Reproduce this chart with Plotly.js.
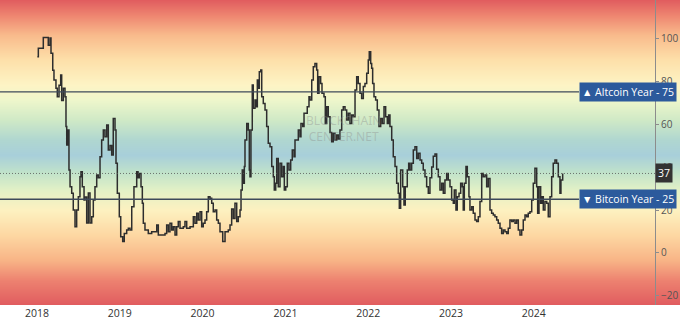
<!DOCTYPE html>
<html>
<head>
<meta charset="utf-8">
<script src="https://cdn.plot.ly/plotly-3.0.1.min.js"></script>
<style>html,body{margin:0;padding:0;background:#fff;}#chart{width:680px;height:326px;}</style>
</head>
<body>
<div id="chart"></div>
<script>
// Dates as decimal years
const dates = [
2018.004,2018.016,2018.069,2018.076,2018.136,2018.157,2018.169,2018.190,2018.205,2018.229,
2018.245,2018.266,2018.286,2018.298,2018.318,2018.338,2018.350,2018.359,2018.371,2018.386,
2018.399,2018.419,2018.438,2018.459,2018.479,2018.499,2018.519,2018.531,2018.547,2018.568,
2018.580,2018.600,2018.620,2018.640,2018.661,2018.680,2018.700,2018.721,2018.740,2018.761,
2018.781,2018.801,2018.821,2018.842,2018.861,2018.882,2018.902,2018.921,2018.942,2018.954,
2018.970,2018.994,2019.011,2019.035,2019.054,2019.083,2019.103,2019.123,2019.144,2019.171,
2019.204,2019.220,2019.235,2019.256,2019.272,2019.284,2019.304,2019.344,2019.385,2019.425,
2019.446,2019.465,2019.506,2019.546,2019.566,2019.586,2019.606,2019.627,2019.646,2019.667,
2019.687,2019.706,2019.727,2019.767,2019.787,2019.808,2019.848,2019.868,2019.888,2019.908,
2019.929,2019.948,2019.969,2019.989,2020.008,2020.029,2020.049,2020.069,2020.089,2020.110,
2020.129,2020.150,2020.170,2020.190,2020.210,2020.243,2020.271,2020.310,2020.331,2020.351,
2020.371,2020.391,2020.412,2020.431,2020.452,2020.464,2020.479,2020.491,2020.504,2020.512,
2020.533,2020.552,2020.564,2020.572,2020.584,2020.600,2020.612,2020.633,2020.645,2020.661,
2020.673,2020.685,2020.702,2020.714,2020.733,2020.754,2020.774,2020.793,2020.814,2020.835,
2020.854,2020.866,2020.883,2020.895,2020.914,2020.935,2020.955,2020.975,2020.987,2021.004,
2021.023,2021.043,2021.064,2021.083,2021.104,2021.116,2021.136,2021.156,2021.176,2021.188,
2021.209,2021.225,2021.249,2021.264,2021.285,2021.297,2021.318,2021.337,2021.357,2021.378,
2021.390,2021.406,2021.426,2021.442,2021.466,2021.482,2021.499,2021.518,2021.539,2021.559,
2021.578,2021.599,2021.620,2021.639,2021.659,2021.680,2021.699,2021.720,2021.740,2021.760,
2021.780,2021.801,2021.820,2021.841,2021.861,2021.880,2021.901,2021.921,2021.941,2021.961,
2021.982,2022.001,2022.013,2022.030,2022.042,2022.054,2022.070,2022.090,2022.110,2022.130,
2022.151,2022.170,2022.191,2022.211,2022.231,2022.247,2022.263,2022.284,2022.303,2022.324,
2022.344,2022.363,2022.376,2022.392,2022.417,2022.432,2022.448,2022.472,2022.489,2022.505,
2022.525,2022.545,2022.565,2022.586,2022.605,2022.626,2022.646,2022.665,2022.686,2022.706,
2022.726,2022.746,2022.767,2022.786,2022.807,2022.827,2022.847,2022.867,2022.888,2022.907,
2022.927,2022.948,2022.967,2022.988,2023.008,2023.028,2023.040,2023.060,2023.076,2023.097,
2023.117,2023.136,2023.148,2023.161,2023.181,2023.197,2023.217,2023.229,2023.250,2023.269,
2023.290,2023.310,2023.330,2023.350,2023.371,2023.390,2023.411,2023.431,2023.450,2023.471,
2023.491,2023.511,2023.531,2023.552,2023.571,2023.592,2023.612,2023.632,2023.652,2023.673,
2023.692,2023.712,2023.733,2023.752,2023.773,2023.793,2023.813,2023.833,2023.854,2023.873,
2023.894,2023.914,2023.933,2023.954,2023.975,2023.994,2024.014,2024.035,2024.047,2024.063,
2024.083,2024.099,2024.115,2024.135,2024.156,2024.175,2024.196,2024.216,2024.235,2024.256,
2024.276,2024.296,2024.316,2024.328,2024.349
];
// Altcoin Season Index values
const indexValues = [
91.3,95.2,95.2,100.3,96.7,100,92.9,85,80.5,76.7,
72.7,78,82.8,71,76.7,72.7,58.8,50.2,57.2,38.6,
30.8,27.8,20,12.2,20,26.2,35.5,37.8,30.8,24.7,
26,14,27.9,14,16.9,24.7,30.8,36.3,35,44.8,
52.6,57.2,54.1,59.5,47.9,50,45.6,62.6,57.2,41.7,
27.8,16.9,7.6,5.3,9.1,10.7,11.5,10.7,21.5,30.8,
37.8,35,37,30.8,23.1,13.8,10.7,9.1,9.9,9.9,
13,8.4,8.4,9.1,13,9.9,13.8,10.7,12.2,8.4,
12.2,14.6,11.5,12.2,14.6,11.5,12.2,12.2,16.9,13.8,
18.5,15.3,19.2,12.2,13.8,15.3,19.2,26.2,25.5,23.1,
19.2,20,15.3,13.8,9.9,5.3,9.9,10.7,13,20.5,
16,23.1,14.6,16.9,20,29.3,38.6,32.4,40.2,52.6,
60.3,57.2,38.6,35.5,57.2,78.1,67.3,71.2,68,80.5,
76.6,84.3,85.1,72.7,69.6,66.5,58.8,51,49.4,40.2,
35.5,29.3,32.4,44,30.8,41.7,35.5,40.2,29.3,30.8,
41.7,38.6,43.3,47.9,44.8,52.6,52.6,57.2,54.1,60.3,
58.8,65,65,68,72.7,71.2,80.5,86.7,88.2,85.1,
74.3,82,78.9,74.3,72.7,60.3,68,63.4,56,51.8,
55.7,52.6,54.9,53,57.2,66.5,68,66.5,61.9,65,
60.3,64.2,63.4,75.8,82,78.9,74.3,71.9,77.4,78.9,
83.6,89.8,93.6,88.2,85.9,78.9,72.7,71.2,66.5,58.8,
62.6,60.3,68,63.4,60.3,64.2,58.8,52.6,44.8,40.2,
32.4,27.8,20.8,38.6,30.8,22.3,30.8,38.6,41.7,38.6,
41.7,47.9,49.4,44,46.4,43.3,41.7,38.6,35.5,30.8,
27.8,35,40,45,46,39,35.5,29.3,32.4,27.8,
34,37,34,30.8,24.7,23.1,29.3,20,26.2,27.8,
32.4,30.8,20,32.4,40.2,35.5,26.2,20,21.5,18.5,
15.3,14.6,16.9,23.9,37,35.5,36.3,30.8,34.7,20,
18.5,17.7,16.9,15.3,13.8,11.5,9.1,10.7,9.9,9.1,
11.5,15.3,14.6,15.3,13.8,15.3,10.7,8.4,10.7,15.3,
17.7,16.9,18.5,19.2,24.7,32.4,39.4,30.8,18.5,30.8,
23.1,26.2,20,23.9,23.1,16.9,26.2,35.5,41.7,43.3,
41.7,35.5,27.8,34,37
];
const yearTicks = [2018,2019,2020,2021,2022,2023,2024];
const yearLabels = ['2018','2019','2020','2021','2022','2023','2024'];
const altcoinLevel = 75;
const bitcoinLevel = 25;
const currentValue = 37;

// background gradient stops
const bandValues = [-26,-12.6,-3.3,8.4,20,29.3,37.7,45.6,52.6,61.9,71.2,78.1,89.8,101.4,110.7,119];
const bandColors = ['#de555c','#ed8270','#f8b486','#fdd7a2','#fdf1c0','#e3f1c6','#c0e2ca','#a8cfda','#afd6d0','#cfe9c6','#eef6cb','#fdf4c5','#fde0aa','#f9bb8c','#ee8570','#de555c'];

const vmin = bandValues[0], vmax = bandValues[bandValues.length-1];
const colorscale = bandValues.map((v,i)=>[(v-vmin)/(vmax-vmin), bandColors[i]]);

const bg = {
  type:'heatmap', x:[2017.3, 2026.0], y:bandValues,
  z:bandValues.map(v=>[v,v]), colorscale:colorscale, zmin:vmin, zmax:vmax,
  zsmooth:'best', showscale:false, hoverinfo:'skip'
};
const line = {
  type:'scatter', mode:'lines', x:dates, y:indexValues,
  line:{color:'#2e2e2e', width:1.5, shape:'hv'}, hoverinfo:'skip'
};

const xEnd = 655/680;
const layout = {
  width:680, height:326,
  margin:{l:0, r:0, t:0, b:21},
  paper_bgcolor:'#ffffff', plot_bgcolor:'#ffffff',
  showlegend:false,
  font:{family:'Open Sans, Noto Sans, sans-serif'},
  xaxis:{range:[2017.553, 2025.766], tickmode:'array', tickvals:yearTicks, ticktext:yearLabels,
    showgrid:false, zeroline:false, showline:false, ticks:'',
    tickfont:{size:10.5, color:'#333'}, fixedrange:true},
  yaxis:{range:[-24.2, 117.7], side:'right', anchor:'free', position:xEnd,
    showline:true, linecolor:'#8c8c8c', linewidth:1, ticks:'outside', ticklen:3, tickcolor:'#8c8c8c',
    dtick:20, tick0:0, showgrid:false, zeroline:false,
    tickfont:{size:10, color:'#555'}, fixedrange:true},
  shapes:[
    {type:'line', xref:'paper', yref:'y', x0:0, x1:579/680, y0:altcoinLevel, y1:altcoinLevel,
      line:{color:'#3e4a5a', width:1.3}, layer:'above'},
    {type:'line', xref:'paper', yref:'y', x0:0, x1:579/680, y0:bitcoinLevel, y1:bitcoinLevel,
      line:{color:'#3e4a5a', width:1.3}, layer:'above'},
    {type:'line', xref:'paper', yref:'y', x0:0, x1:xEnd, y0:currentValue, y1:currentValue,
      line:{color:'#555', width:0.8, dash:'1px,2px'}, layer:'above'}
  ],
  annotations:[
    {xref:'paper', yref:'y', x:343/680, y:58, text:'BLOCKCHAIN<br>CENTER.NET', showarrow:false,
      font:{size:12, color:'rgba(140,140,140,0.38)', family:'Noto Sans, sans-serif'}},
    {xref:'paper', yref:'y', x:677/680, xanchor:'right', y:altcoinLevel, yanchor:'middle',
      text:'▲ Altcoin Year - ' + altcoinLevel, showarrow:false, bgcolor:'#2c5a9c', borderpad:2,
      font:{size:10.5, color:'#ffffff'}},
    {xref:'paper', yref:'y', x:677/680, xanchor:'right', y:bitcoinLevel, yanchor:'middle',
      text:'▼ Bitcoin Year - ' + bitcoinLevel, showarrow:false, bgcolor:'#2c5a9c', borderpad:2,
      font:{size:10.5, color:'#ffffff'}},
    {xref:'paper', yref:'y', x:xEnd, xanchor:'left', y:currentValue, yanchor:'middle',
      text:String(currentValue), showarrow:false, bgcolor:'#333333', borderpad:2,
      font:{size:10.5, color:'#ffffff'}}
  ]
};
Plotly.newPlot('chart', [bg, line], layout, {staticPlot:true, displayModeBar:false});
</script>
</body>
</html>
